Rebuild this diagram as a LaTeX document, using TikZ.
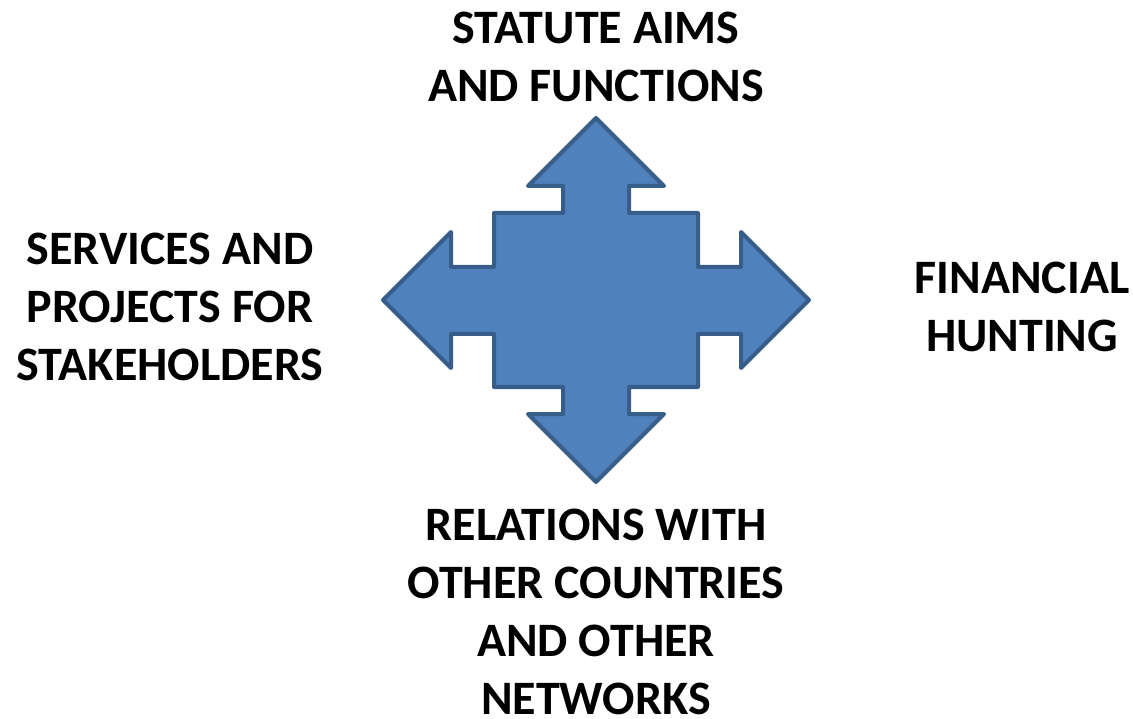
\documentclass[tikz,border=0pt]{standalone}
\usepackage{fontspec}
\setmainfont{Carlito}
\usetikzlibrary{calc}
\definecolor{arrowfill}{HTML}{4F81BD}
\definecolor{arrowline}{HTML}{385D8A}
\tikzstyle{quadarrow}=[draw=arrowline,fill=arrowfill,line width=4pt,line join=round]
\tikzstyle{label}=[align=center,inner sep=0pt,font=\fontsize{48}{58}\selectfont\bfseries]

\begin{document}
\begin{tikzpicture}[x=1pt,y=-1pt]
    \useasboundingbox (0,0) rectangle (1133,719);
    % The four-way arrow, corners listed clockwise from the top tip
    \draw[quadarrow] (596,118) -- (664,186) -- (629,186) -- (629,213) -- (698,213)
        -- (698,267) -- (741,267) -- (741,232) -- (809,300) -- (741,368) -- (741,334)
        -- (698,334) -- (698,387) -- (629,387) -- (629,414) -- (664,414) -- (596,482)
        -- (528,414) -- (563,414) -- (563,387) -- (494,387) -- (494,334) -- (451,334)
        -- (451,368) -- (383,300) -- (451,232) -- (451,267) -- (494,267) -- (494,213)
        -- (563,213) -- (563,186) -- (528,186) -- cycle;

    % Then the four labels round it
    \foreach \pos/ \name/ \txt in {{(596,57)/aims/{STATUTE AIMS\\AND FUNCTIONS}},
        {(170,307)/services/{SERVICES AND\\PROJECTS FOR\\STAKEHOLDERS}},
        {(1022,307)/finance/{FINANCIAL\\HUNTING}},
        {(596,612)/relations/{RELATIONS WITH\\OTHER COUNTRIES\\AND OTHER\\NETWORKS}}}
        \node[label] (\name) at \pos {\txt};
\end{tikzpicture}
\end{document}
